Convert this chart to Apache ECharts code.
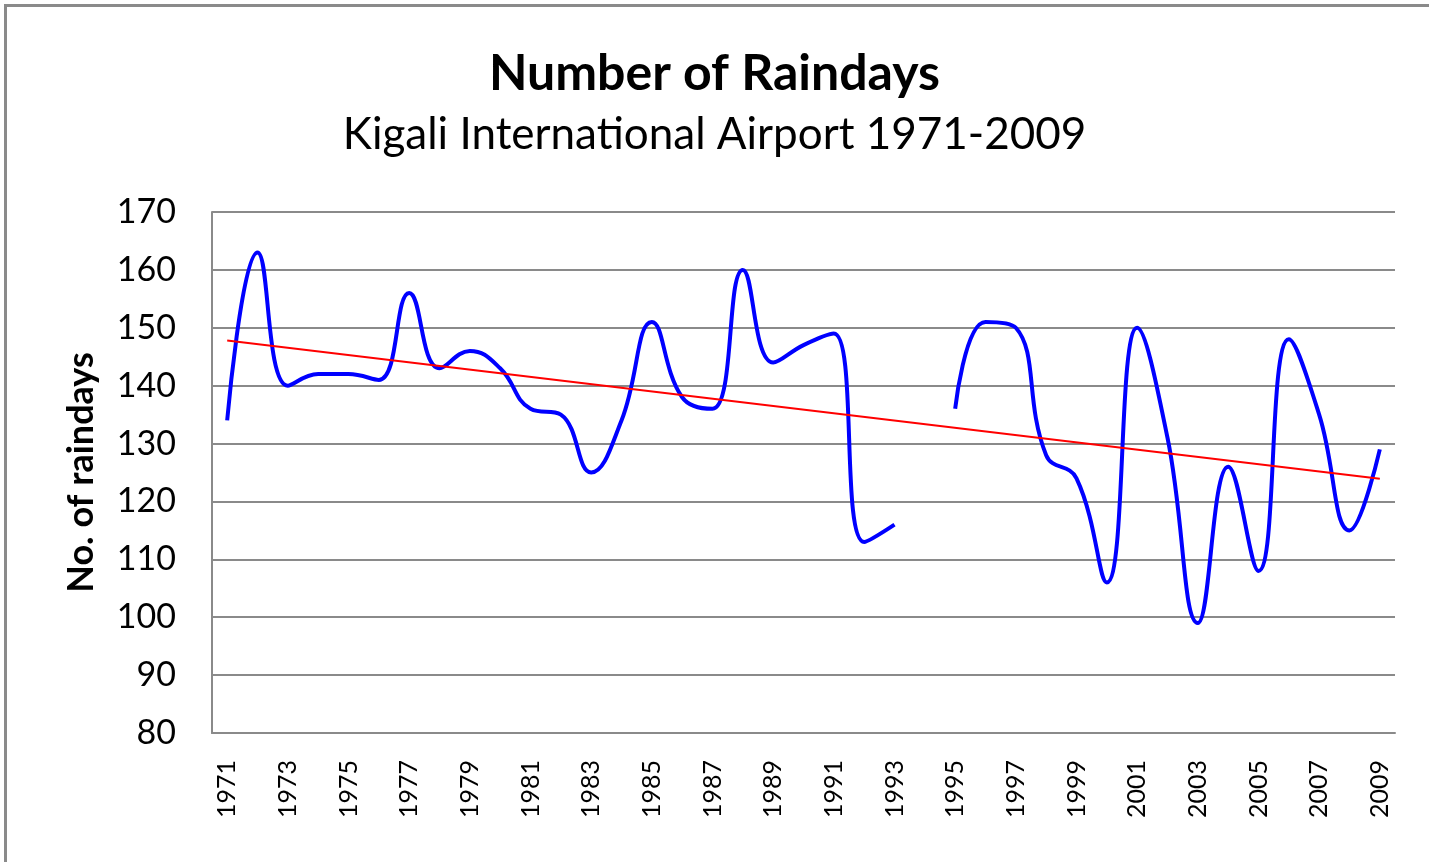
<!DOCTYPE html>
<html>
<head>
<meta charset="utf-8">
<script src="https://cdn.jsdelivr.net/npm/echarts@6/dist/echarts.min.js"></script>
<style>
html, body { margin: 0; padding: 0; overflow: hidden; background: #fff; }
.frame {
    position: absolute;
    left: 4px;
    top: 4px;
    width: 1440px;
    height: 880px;
    border: 3px solid #8a8a8a;
    box-sizing: border-box;
}
#chart { position: absolute; left: 0; top: 0; width: 1429px; height: 862px; }
</style>
</head>
<body>
<div class="frame"></div>
<div id="chart"></div>
<script>
// years 1971-2009
const years = []
for (let y = 1971; y <= 2009; y++) years.push(String(y))

// number of raindays per year (1994 missing)
const raindays = [
    134, 163, 140, 142, 142, 141, 156, 143, 146, 143,
    136, 135, 125, 134, 151, 138, 136, 160, 144, 147,
    149, 113, 116, null, 136, 151, 150, 128, 124, 106,
    150, 131, 99, 126, 108, 148, 135, 115, 129
]

// linear trend end points
const trendStart = 147.8
const trendEnd = 123.9
const trend = years.map((y, i) => i === 0 ? trendStart : (i === years.length - 1 ? trendEnd : null))

const chart = echarts.init(document.getElementById('chart'))
const font = 'Lato, "Open Sans", sans-serif'

chart.setOption({
    animation: false,
    title: [{
        text: 'Number of Raindays',
        left: 'center',
        top: 44,
        textStyle: { fontFamily: font, fontWeight: 'bold', fontSize: 50, color: '#000' }
    }, {
        text: 'Kigali International Airport 1971-2009',
        left: 'center',
        top: 108,
        textStyle: { fontFamily: font, fontWeight: 'normal', fontSize: 44, color: '#000' }
    }],
    grid: { left: 212, right: 34, top: 212, bottom: 129 },
    xAxis: {
        type: 'category',
        data: years,
        boundaryGap: true,
        axisLine: { lineStyle: { color: '#8a8a8a', width: 2 } },
        axisTick: { show: false },
        axisLabel: {
            interval: 1,
            rotate: 90,
            margin: 27,
            fontFamily: font,
            fontSize: 25,
            color: '#000'
        }
    },
    yAxis: {
        type: 'value',
        min: 80,
        max: 170,
        interval: 10,
        name: 'No. of raindays',
        nameLocation: 'middle',
        nameGap: 113,
        nameTextStyle: { fontFamily: font, fontWeight: 'bold', fontSize: 36, color: '#000' },
        axisLine: { show: true, lineStyle: { color: '#8a8a8a', width: 2 } },
        axisTick: { show: false },
        splitLine: { lineStyle: { color: '#8a8a8a', width: 2 } },
        axisLabel: { margin: 36, fontFamily: font, fontSize: 34, color: '#000' }
    },
    series: [{
        name: 'Raindays',
        type: 'line',
        data: raindays,
        smooth: 0.45,
        showSymbol: false,
        connectNulls: false,
        lineStyle: { color: '#0000ff', width: 4 }
    }, {
        name: 'Trend',
        type: 'line',
        data: trend,
        connectNulls: true,
        showSymbol: false,
        lineStyle: { color: '#ff0000', width: 2 }
    }]
})
</script>
</body>
</html>
